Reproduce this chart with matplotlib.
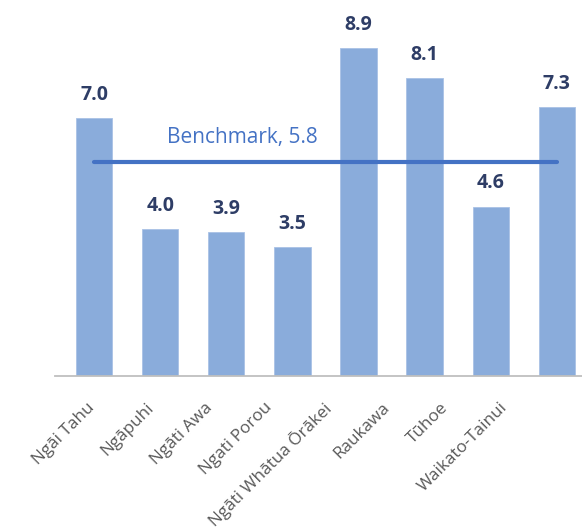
import matplotlib
matplotlib.use("Agg")
import matplotlib.pyplot as plt
import matplotlib.transforms as mtransforms
import numpy as np

categories = ["Ngāi Tahu", "Ngāpuhi", "Ngāti Awa", "Ngati Porou",
              "Ngāti Whātua Ōrākei", "Raukawa", "Tūhoe", "Waikato-Tainui"]
values = [7.0, 4.0, 3.9, 3.5, 8.9, 8.1, 4.6, 7.3]
benchmark = 5.8
benchmark_label = "Benchmark, 5.8"

BAR_COLOR = "#8AACDB"
LINE_COLOR = "#4472C4"
LABEL_COLOR = "#2E3D66"
TICK_COLOR = "#595959"

plt.rcParams["font.family"] = ["Open Sans", "DejaVu Sans"]

W, H = 582, 530
fig = plt.figure(figsize=(W / 100, H / 100), dpi=100)
# axes placed in pixel terms: left 55, right 582, baseline 376, top 9
ax = fig.add_axes([55 / W, (H - 376) / H, (582 - 55) / W, (376 - 9) / H])

x = np.arange(len(categories))
ax.bar(x, values, width=0.55, color=BAR_COLOR, edgecolor="#A9C1E6", linewidth=0.6, zorder=2)

for xi, v in zip(x, values):
    ax.annotate(f"{v:.1f}", (xi, v), xytext=(0, 9.5), textcoords="offset points",
                ha="center", va="bottom", fontsize=14, fontweight="bold",
                color=LABEL_COLOR)

ax.plot([x[0], x[-1]], [benchmark, benchmark], color=LINE_COLOR, linewidth=3,
        solid_capstyle="round", zorder=3)
ax.text(2.25, benchmark + 0.4, benchmark_label, ha="center", va="bottom",
        fontsize=15, color=LINE_COLOR)

ax.set_xlim(-0.59, 7.38)
ax.set_ylim(0, 9.97)

for side in ["top", "right", "left"]:
    ax.spines[side].set_visible(False)
ax.spines["bottom"].set_color("#BFBFBF")
ax.spines["bottom"].set_linewidth(1.3)
ax.set_yticks([])
ax.set_xticks(x)
ax.set_xticklabels(categories, rotation=45, ha="right", rotation_mode="anchor",
                   fontsize=12.3, color=TICK_COLOR)
ax.tick_params(axis="x", length=0, pad=17)
# the original's rotated labels drift left as the category index grows
for i, lbl in enumerate(ax.get_xticklabels()):
    shift = mtransforms.ScaledTranslation((-7 - 7.2 * i) / 100, 0, fig.dpi_scale_trans)
    lbl.set_transform(lbl.get_transform() + shift)

fig.savefig("out.png", dpi=100)
